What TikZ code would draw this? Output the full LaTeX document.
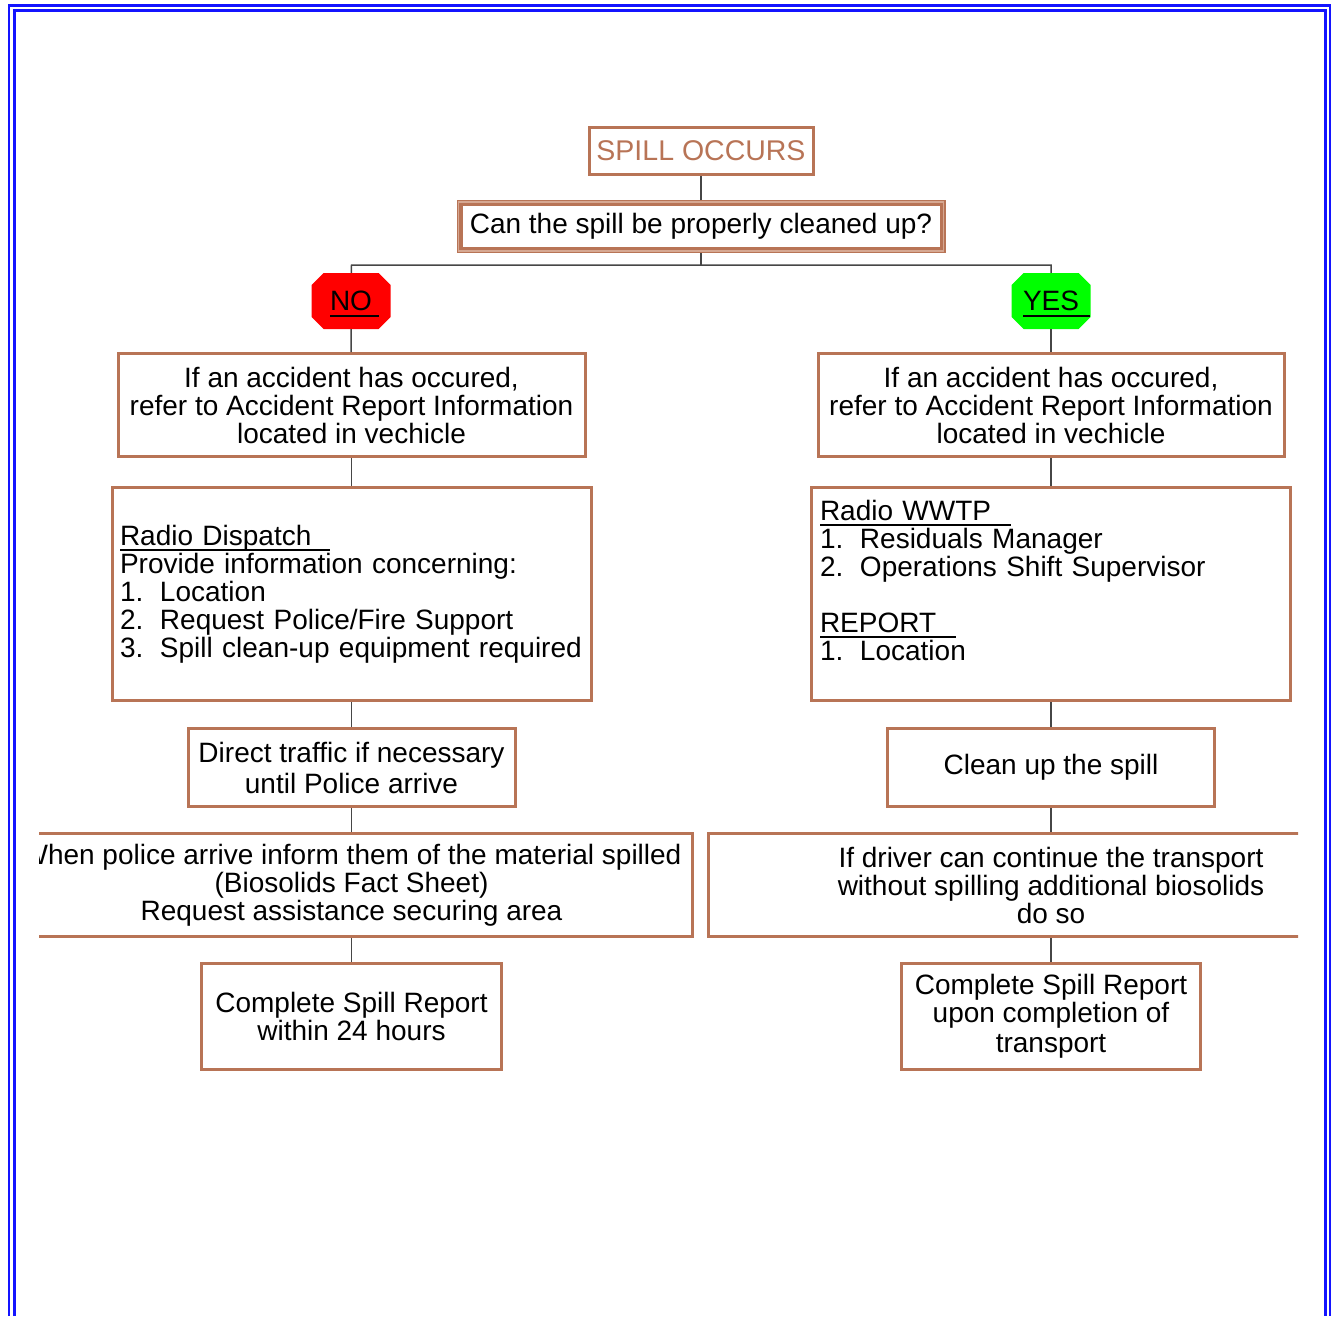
\documentclass[tikz,border=0pt]{standalone}
\usepackage{fontspec}
\setmainfont{Liberation Sans}
\definecolor{brn}{RGB}{184,116,86}
\definecolor{lbrn}{RGB}{214,168,146}
\definecolor{frameblue}{RGB}{20,20,255}
\definecolor{linkcol}{RGB}{70,70,70}
\definecolor{nored}{RGB}{255,0,0}
\definecolor{yesgreen}{RGB}{0,255,0}
\newsavebox\ulbox
\newcommand\ulx[2]{\leavevmode\sbox\ulbox{#1}\rlap{\rule[-6pt]{\dimexpr\wd\ulbox+#2pt\relax}{2pt}}\usebox\ulbox}
\newcommand\itm[1]{\makebox[40pt][l]{#1}}
\begin{document}
\begin{tikzpicture}[x=1pt,y=-1pt,
  box/.style={draw=brn, line width=3pt, inner sep=0pt, align=center, font=\fontsize{28}{28}\selectfont},
  octo/.style={inner sep=0pt, draw=none, font=\fontsize{28}{28}\selectfont,
    minimum width=79pt, minimum height=56pt, text depth=0pt,
    path picture={\fill[#1]
      ([xshift=12pt]path picture bounding box.north west) --
      ([xshift=-12pt]path picture bounding box.north east) --
      ([yshift=-12pt]path picture bounding box.north east) --
      ([yshift=12pt]path picture bounding box.south east) --
      ([xshift=-12pt]path picture bounding box.south east) --
      ([xshift=12pt]path picture bounding box.south west) --
      ([yshift=12pt]path picture bounding box.south west) --
      ([yshift=-12pt]path picture bounding box.north west) -- cycle;}},
  link/.style={draw=linkcol, line width=1.5pt}]
\useasboundingbox (0,0) rectangle (1332,1316);
% frame
\draw[frameblue, line width=2.5pt] (9,1316) -- (9,5.5) -- (1330,5.5) -- (1330,1316);
\draw[frameblue, line width=3pt] (14.5,1316) -- (14.5,10.5) -- (1325.5,10.5) -- (1325.5,1316);
% top
\node[box, minimum width=224pt, minimum height=47pt, text=brn, font=\fontsize{28.5}{28.5}\selectfont] (spill) at (701,151) {SPILL OCCURS};
\node[box, line width=6pt, minimum width=483pt, minimum height=47pt] (q) at (701,226.5) {Can the spill be properly cleaned up?};
\draw[lbrn, line width=1.5pt] ([shift={(2.2pt,-2.2pt)}]q.north west) rectangle ([shift={(-2.2pt,2.2pt)}]q.south east);
\coordinate (bl) at (351.5,265);
\coordinate (bc) at (701,265);
\coordinate (brr) at (1051,265);
\node[octo=nored] (no) at (351,301) {\ulx{NO}{7}};
\node[octo=yesgreen] (yes) at (1051,301) {\ulx{YES}{11}};
% left column
\node[box, minimum width=467pt, minimum height=103pt] (L1) at (351.5,405) {If an accident has occured,\\refer to Accident Report Information\\located in vechicle};
\node[box, minimum width=479pt, minimum height=213pt, text width=463pt, align=left] (L2) at (351.5,594) {\ulx{Radio Dispatch}{19}\\Provide information concerning:\\\itm{1.}Location\\\itm{2.}Request Police/Fire Support\\\itm{3.}Spill clean-up equipment required};
\node[box, minimum width=327pt, minimum height=78pt] (L3) at (351.5,767.5) {Direct traffic if necessary\\[3pt]until Police arrive};
\node[box, minimum width=300pt, minimum height=106pt] (L5) at (351.5,1016.5) {Complete Spill Report\\within 24 hours};
% right column
\node[box, minimum width=466pt, minimum height=103pt] (R1) at (1051,405) {If an accident has occured,\\refer to Accident Report Information\\located in vechicle};
\node[box, minimum width=479pt, minimum height=213pt, text width=462pt, align=left] (R2) at (1051,594) {\ulx{Radio WWTP}{20}\\\itm{1.}Residuals Manager\\\itm{2.}Operations Shift Supervisor\\\mbox{}\\\ulx{REPORT}{20}\\\itm{1.}Location\\\mbox{}};
\node[box, minimum width=327pt, minimum height=78pt] (R3) at (1051,767.5) {Clean up the spill};
\node[box, minimum width=299pt, minimum height=106pt] (R5) at (1051,1016.5) {Complete Spill Report\\upon completion of\\[2pt]transport};
% clipped wide boxes
\begin{scope}
\clip (39,0) rectangle (1298,1316);
\node[box, minimum width=681pt, minimum height=103pt] (L4) at (351.5,885) {When police arrive inform them of the material spilled\\(Biosolids Fact Sheet)\\Request assistance securing area};
\node[box, minimum width=685pt, minimum height=103pt] (R4) at (1051,885) {If driver can continue the transport\\without spilling additional biosolids\\do so};
\end{scope}
% connectors
\draw[link] (spill) -- (q);
\draw[link] (q) -- (bc);
\draw[link] (no) -- (bl) -- (brr) -- (yes);
\draw[link] (no) -- (L1);
\draw[link] (L1) -- (L2);
\draw[link] (L2) -- (L3);
\draw[link] (L3) -- (L4);
\draw[link] (L4) -- (L5);
\draw[link] (yes) -- (R1);
\draw[link] (R1) -- (R2);
\draw[link] (R2) -- (R3);
\draw[link] (R3) -- (R4);
\draw[link] (R4) -- (R5);
\end{tikzpicture}
\end{document}
